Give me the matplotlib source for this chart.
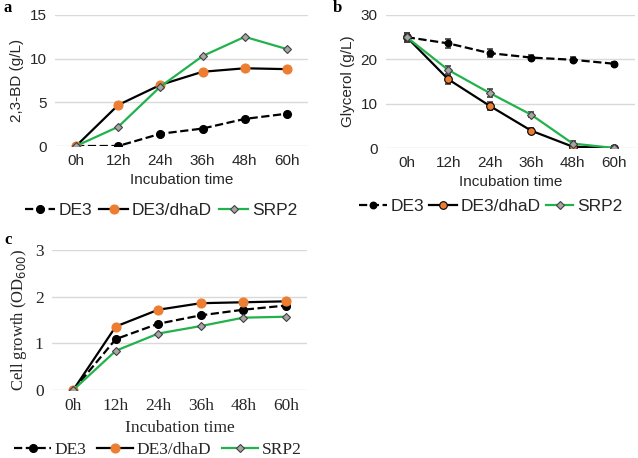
import matplotlib
matplotlib.use("Agg")
import matplotlib.pyplot as plt
from matplotlib.lines import Line2D

times = ["0h", "12h", "24h", "36h", "48h", "60h"]

bd_de3 = [0, 0, 1.4, 2.0, 3.1, 3.7]
bd_dhad = [0, 4.7, 7.0, 8.5, 8.9, 8.8]
bd_srp2 = [0, 2.2, 6.8, 10.3, 12.5, 11.1]

gly_de3 = [25.0, 23.6, 21.4, 20.4, 19.9, 19.0]
gly_dhad = [25.0, 15.5, 9.5, 3.9, 0.3, 0.0]
gly_srp2 = [25.0, 17.6, 12.4, 7.5, 1.0, 0.0]
gly_err = [1.0, 1.0, 0.9, 0.6, 0.6, 0.4]

od_de3 = [0, 1.09, 1.42, 1.60, 1.72, 1.81]
od_dhad = [0, 1.36, 1.72, 1.86, 1.88, 1.90]
od_srp2 = [0, 0.84, 1.21, 1.37, 1.55, 1.57]

W, H = 638, 458
ORANGE = "#ED7D31"
GREEN = "#22B24C"
GRID = "#D9D9D9"
TXT = "#262626"


def add_ax(fig, x0, y0, x1, y1):
    # boite en pixels (origine en haut a gauche) -> fraction de figure
    return fig.add_axes([x0 / W, 1 - y1 / H, (x1 - x0) / W, (y1 - y0) / H])


def draw(ax, de3, dhad, srp2, ymax, step, font, fs, ms, err=None,
         xlpad=3, leg_xy=(0.5, -0.3), leg_fs=12.5, hlen=2.0, colsp=0.6):
    x = list(range(len(times)))
    styles = [
        dict(color="black", ls="--", marker="o", ms=ms * 0.85, mfc="black", mec="black"),
        dict(color="black", ls="-", marker="o", ms=ms, mfc=ORANGE,
             mec=ORANGE if err is None else "black", mew=0.8),
        dict(color=GREEN, ls="-", marker="D", ms=ms * 0.7, mfc="#A6A6A6", mec="#404040", mew=0.8),
    ]
    for ys, st in zip([de3, dhad, srp2], styles):
        if err is not None:
            ax.errorbar(x, ys, yerr=err, fmt="none", ecolor="#404040",
                        elinewidth=1.2, capsize=2, capthick=1.2)
        ax.plot(x, ys, lw=1.6, **st)
    ax.set_xlim(-0.5, 5.5)
    ax.set_ylim(0, ymax)
    ax.set_yticks(range(0, ymax + 1, step))
    ax.set_xticks(x)
    ax.set_xticklabels(times)
    ax.yaxis.grid(True, color=GRID, lw=1)
    ax.set_axisbelow(True)
    for s in ax.spines.values():
        s.set_visible(False)
    ax.tick_params(length=0, labelsize=fs, labelcolor=TXT, pad=6)
    for lab in ax.get_xticklabels() + ax.get_yticklabels():
        lab.set_family(font)
    ax.set_xlabel("Incubation time", fontsize=fs, color=TXT, family=font, labelpad=xlpad)
    handles = [Line2D([], [], lw=1.6, **st) for st in styles]
    leg = ax.legend(handles, ["DE3", "DE3/dhaD", "SRP2"], loc="upper center",
                    bbox_to_anchor=leg_xy, ncol=3, frameon=False,
                    handlelength=hlen, handletextpad=0.2, columnspacing=colsp,
                    borderaxespad=0, prop={"family": font, "size": leg_fs})
    for t in leg.get_texts():
        t.set_color(TXT)


fig = plt.figure(figsize=(W / 100, H / 100), dpi=100)

ax1 = add_ax(fig, 55, 15, 308, 146)
draw(ax1, bd_de3, bd_dhad, bd_srp2, 15, 5, "Liberation Sans", 11, 6.5,
     leg_xy=(0.42, -0.38), hlen=1.7, colsp=0.4)
ax1.set_ylabel("2,3-BD (g/L)", fontsize=11, color=TXT, family="Liberation Sans")

ax2 = add_ax(fig, 386, 15, 635, 148)
draw(ax2, gly_de3, gly_dhad, gly_srp2, 30, 10, "Liberation Sans", 11, 5.5, err=gly_err,
     leg_xy=(0.42, -0.33), hlen=1.6, colsp=0.3)
ax2.set_ylabel("Glycerol (g/L)", fontsize=11, color=TXT, family="Liberation Sans")

ax3 = add_ax(fig, 52, 250, 307, 390)
draw(ax3, od_de3, od_dhad, od_srp2, 3, 1, "Liberation Serif", 12.5, 6.5,
     xlpad=4, leg_xy=(0.415, -0.32), leg_fs=12.5, hlen=2.1, colsp=0.6)
ax3.set_ylabel("Cell growth (OD$_{600}$)", fontsize=12, color=TXT, family="Liberation Serif")

fig.text(4 / W, 1 - 8 / H, "a", fontsize=12, fontweight="bold", family="Liberation Serif", va="center")
fig.text(333 / W, 1 - 8 / H, "b", fontsize=12, fontweight="bold", family="Liberation Serif", va="center")
fig.text(4 / W, 1 - 240 / H, "c", fontsize=12, fontweight="bold", family="Liberation Serif", va="center")

fig.savefig("out.png", dpi=100)
